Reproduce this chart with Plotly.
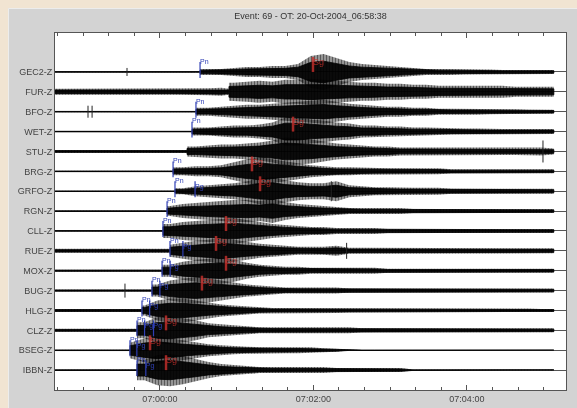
import pandas as pd
import plotly.graph_objects as go

TITLE = "Event: 69 - OT: 20-Oct-2004_06:58:38"
ORIGIN_TIME = "2004-10-20 06:58:38"
WINDOW_S = 399.5

STATIONS = ["GEC2-Z", "FUR-Z", "BFO-Z", "WET-Z", "STU-Z", "BRG-Z", "GRFO-Z", "RGN-Z",
            "CLL-Z", "RUE-Z", "MOX-Z", "BUG-Z", "HLG-Z", "CLZ-Z", "BSEG-Z", "IBBN-Z"]

# envelope sample times (s after origin time)
GRID_S = list(range(0, 400, 10))
# first-arrival onset of each trace (s after origin) and pre-event noise level
ONSET_S = [113.4, 136.0, 110.2, 107.1, 103.2, 92.3, 93.8, 87.6,
           84.4, 89.9, 83.7, 75.8, 68.0, 64.1, 58.6, 64.1]
NOISE = [0.5, 3, 0.5, 0.5, 1.5, 0.5, 0.5, 0.5, 0.5, 2, 1, 1, 1.5, 1.5, 0.5, 0.5]

# envelope half-amplitude (counts) at GRID_S
AMP_GEC2 = [0.5] * 12 + [3, 3, 4, 5, 5, 6, 6, 8, 16, 18, 14, 10, 8, 7, 6, 5, 4, 3, 3, 3,
                         2.5, 2.5, 2.5, 2, 2, 2, 2, 2]
AMP_FUR = [3] * 12 + [3.5, 4] + [9, 10, 11, 10, 12, 12, 13, 12, 11, 10, 9, 9, 8, 8, 7, 7, 6, 6, 6, 6,
                                 6, 6, 5, 5, 5, 5]
AMP_BFO = [0.5] * 12 + [4, 5, 6, 7, 7, 8, 9, 10, 11, 12, 10, 8, 7, 6, 5, 5, 4, 4, 3, 3,
                        3, 3, 2.5, 2.5, 2.5, 2, 2, 2]
AMP_WET = [0.5] * 11 + [4, 4, 5, 6, 6, 7, 9, 14, 14, 12, 11, 9, 8, 6, 6, 5, 5, 4, 4, 3.5,
                        3, 3, 3, 2.5, 2.5, 2.5, 2.5, 2.5, 2.5]
AMP_STU = [1.5] * 11 + [5, 6, 7, 7, 8, 9, 11, 14, 13, 12, 10, 8, 7, 6, 5, 5, 4, 4, 4, 4,
                        4, 3.5, 3.5, 3.5, 3.5, 3.5, 3.5, 4, 3]
AMP_BRG = [0.5] * 10 + [4, 5, 5, 6, 9, 12, 14, 12, 10, 8, 6, 5, 4, 4, 3.5, 3, 3, 3, 3, 3,
                        3, 2, 2, 2, 2, 2, 2, 2, 2, 2]
AMP_GRFO = [0.5] * 10 + [3, 5, 6, 7, 8, 10, 13, 14, 11, 9, 8, 8, 10, 6, 5, 4, 4, 3.5, 3.5, 3.5,
                         3.5, 2.5, 2.5, 2.5, 2.5, 2.5, 2.5, 2.5, 2.5, 2.5]
AMP_RGN = [0.5] * 9 + [5, 7, 8, 9, 10, 11, 11, 10, 12, 9, 7, 6, 5, 4, 3, 3, 3, 3, 3, 2,
                       2, 2, 2, 2, 2, 2, 2, 2, 2, 2, 2]
AMP_CLL = [0.5] * 9 + [7, 9, 10, 11, 12, 13, 11, 9, 7, 6, 5, 4, 4, 3, 3, 3, 3, 2, 2, 2,
                       2, 2, 2, 2, 2, 2, 2, 2, 2, 2, 2]
AMP_RUE = [2] * 9 + [6, 8, 10, 11, 13, 11, 9, 7, 6, 5, 4, 4, 4, 5, 3, 3, 3, 3, 3, 3,
                     2.5, 2.5, 2.5, 2.5, 2.5, 2.5, 2.5, 2.5, 2.5, 2.5, 2.5]
AMP_MOX = [1] * 9 + [6, 9, 11, 12, 13, 11, 8, 6, 5, 4, 4, 3, 3, 3, 3, 3, 3, 2, 2, 2,
                     2, 2, 2, 2, 2, 2, 2, 2, 2, 2, 2]
AMP_BUG = [1] * 8 + [6, 10, 12, 13, 12, 10, 8, 6, 5, 4, 3, 3, 3, 3, 3, 2, 2, 2, 2, 2,
                     2, 2, 2, 2, 2, 2, 2, 2, 2, 2, 2, 2]
AMP_HLG = [1.5] * 7 + [5, 10, 12, 12, 10, 8, 6, 5, 4, 3, 2.5, 2.5, 2.5, 2.5, 2.5, 2.5, 2, 2, 2, 2,
                       2, 2, 2, 2, 2, 2, 2, 2, 2, 2, 2, 1.5, 1.5]
AMP_CLZ = [1.5] * 7 + [8, 13, 14, 12, 10, 7, 6, 5, 4, 3, 3, 3, 3, 3, 3, 3, 3, 2, 2, 2,
                       2, 2, 2, 2, 2, 2, 2, 2, 2, 2, 2, 2, 2]
AMP_BSEG = [0.5] * 6 + [8, 12, 14, 12, 10, 8, 6, 5, 4, 3.5, 3, 3, 3, 3, 3, 2, 1.5, 0.3, 0.3, 0.3,
                        0.3, 0.3, 0.3, 0.3, 0.3, 0.3, 0.3, 0.3, 0.3, 0.3, 0.3, 0.3, 0.3, 0.3]
AMP_IBBN = [0.5] * 7 + [10, 15, 16, 14, 11, 8, 6, 5, 4, 3, 3, 3, 3, 3, 3, 2, 2, 2, 2, 2,
                        2, 0.5, 0.5, 0.5, 0.5, 0.5, 0.5, 0.5, 0.5, 0.5, 0.5, 0.5, 0.5]
AMPS = [AMP_GEC2, AMP_FUR, AMP_BFO, AMP_WET, AMP_STU, AMP_BRG, AMP_GRFO, AMP_RGN,
        AMP_CLL, AMP_RUE, AMP_MOX, AMP_BUG, AMP_HLG, AMP_CLZ, AMP_BSEG, AMP_IBBN]

# isolated spikes
SPIKE_STATION = [0, 2, 2, 11, 4, 9, 6]
SPIKE_S = [56.3, 25.8, 29.0, 54.7, 381.5, 228.0, 216.0]
SPIKE_AMP = [4, 6, 6, 7, 11, 8, 10]

# P picks (blue)
P_STATION = [0, 2, 3, 5, 6, 6, 7, 8, 9, 9, 10, 10, 11, 11, 12, 12, 13, 13, 13, 14, 14, 15, 15]
P_TIME_S = [113.4, 110.2, 107.1, 92.3, 93.8, 109.5, 87.6, 84.4, 89.9, 100.0, 83.7, 90.0,
            75.8, 82.0, 68.0, 74.0, 64.1, 70.0, 77.0, 58.6, 64.0, 64.1, 71.0]
P_LABEL = ["Pn", "Pn", "Pn", "Pn", "Pn", "Pg", "Pn", "Pn", "Pn", "Pg", "Pn", "Pg",
           "Pn", "Pg", "Pn", "Pg", "Pn", "Pg", "Pg", "Pn", "Pg", "Pn", "Pg"]

# S picks (red)
S_STATION = [0, 3, 5, 6, 8, 9, 10, 11, 13, 14, 15]
S_TIME_S = [201.7, 186.1, 154.0, 160.3, 133.7, 125.9, 133.7, 114.9, 86.8, 74.3, 86.8]
S_LABEL = ["Sg"] * len(S_STATION)

PX_PER_TRACE = 19.87
FONT = "Liberation Sans"
BLUE = "#2f3fb5"
RED = "#c8302c"
BEIGE = "#f1e4d2"

t0 = pd.Timestamp(ORIGIN_TIME)


def ts(s):
    return (t0 + pd.Timedelta(seconds=float(s))).strftime("%Y-%m-%d %H:%M:%S.%f")


def envelope(i, scale):
    times, amps = [], []
    onset = ONSET_S[i]
    done = False
    for t, a in zip(GRID_S, AMPS[i]):
        if not done and t >= onset:
            times += [onset, onset]
            amps += [NOISE[i], a]
            done = True
        times.append(t)
        amps.append(a)
    up = [i - a * scale / PX_PER_TRACE for a in amps]
    lo = [i + a * scale / PX_PER_TRACE for a in amps]
    xs = [ts(t) for t in times] + [ts(t) for t in reversed(times)]
    ys = up + lo[::-1]
    return xs, ys


fig = go.Figure()

for i in range(len(STATIONS)):
    assert len(AMPS[i]) == len(GRID_S), STATIONS[i]
    xs, ys = envelope(i, 1.0)
    fig.add_trace(go.Scatter(x=xs, y=ys, fill="toself", mode="lines",
                             line=dict(width=0),
                             fillcolor="rgba(0,0,0,0)",
                             fillpattern=dict(shape="|", fgcolor="black", bgcolor="rgba(0,0,0,0.3)",
                                              size=3, solidity=0.55),
                             hoverinfo="skip"))
for i in range(len(STATIONS)):
    xs, ys = envelope(i, 0.6)
    fig.add_trace(go.Scatter(x=xs, y=ys, fill="toself", mode="lines",
                             line=dict(width=0.8, color="black"),
                             fillcolor="black",
                             fillpattern=dict(shape="|", fgcolor="black", bgcolor="rgba(0,0,0,0.9)",
                                              size=2, solidity=0.6),
                             hoverinfo="skip"))

# spikes
sx, sy = [], []
for st, t, a in zip(SPIKE_STATION, SPIKE_S, SPIKE_AMP):
    sx += [ts(t), ts(t), None]
    sy += [st - a / PX_PER_TRACE, st + a / PX_PER_TRACE, None]
fig.add_trace(go.Scatter(x=sx, y=sy, mode="lines", line=dict(color="#222", width=1),
                         hoverinfo="skip"))

# S picks
rx, ry = [], []
for st, t in zip(S_STATION, S_TIME_S):
    rx += [ts(t), ts(t), None]
    ry += [st - 0.75, st, None]
fig.add_trace(go.Scatter(x=rx, y=ry, mode="lines", line=dict(color=RED, width=2.5),
                         opacity=0.8, hoverinfo="skip"))
fig.add_trace(go.Scatter(x=[ts(t) for t in S_TIME_S], y=[s - 0.45 for s in S_STATION],
                         mode="text", text=S_LABEL, textposition="middle right",
                         textfont=dict(color=RED, size=9, family=FONT), opacity=0.8,
                         hoverinfo="skip"))

# P picks
px_, py_ = [], []
for st, t in zip(P_STATION, P_TIME_S):
    px_ += [ts(t), ts(t), None]
    py_ += [st - 0.5, st + 0.3, None]
fig.add_trace(go.Scatter(x=px_, y=py_, mode="lines", line=dict(color=BLUE, width=1.2),
                         hoverinfo="skip"))
label_y = [s - (0.5 if lab == "Pn" else 0.2) for s, lab in zip(P_STATION, P_LABEL)]
fig.add_trace(go.Scatter(x=[ts(t) for t in P_TIME_S], y=label_y,
                         mode="text", text=P_LABEL, textposition="middle right",
                         textfont=dict(color=BLUE, size=7, family=FONT), hoverinfo="skip"))

# frame: beige strips outside the grey panel
W, H, ML, MR, MT, MB = 577, 408, 55, 11, 33, 18
PW, PH = W - ML - MR, H - MT - MB


def pxx(x):
    return (x - ML) / PW


def pxy(y):
    return (H - MB - y) / PH


shapes = [
    dict(type="rect", xref="paper", yref="paper", x0=pxx(0), x1=pxx(W), y0=pxy(8), y1=pxy(0),
         fillcolor=BEIGE, line=dict(width=0)),
    dict(type="rect", xref="paper", yref="paper", x0=pxx(0), x1=pxx(8), y0=pxy(H), y1=pxy(0),
         fillcolor=BEIGE, line=dict(width=0)),
    dict(type="line", xref="paper", yref="paper", x0=pxx(8.5), x1=pxx(W), y0=pxy(8.5), y1=pxy(8.5),
         line=dict(color="#ececec", width=1)),
    dict(type="line", xref="paper", yref="paper", x0=pxx(8.5), x1=pxx(8.5), y0=pxy(H), y1=pxy(8.5),
         line=dict(color="#ececec", width=1)),
]

fig.update_layout(
    width=W, height=H, margin=dict(l=ML, r=MR, t=MT, b=MB, autoexpand=False),
    paper_bgcolor="#d3d3d3", plot_bgcolor="white", showlegend=False,
    font=dict(family=FONT, color="#444"),
    title=dict(text=TITLE, x=0.5, xref="paper", xanchor="center",
               y=1 - 16 / H, yref="container", yanchor="middle",
               font=dict(size=9, color="#333", family=FONT)),
    shapes=shapes,
    xaxis=dict(type="date", range=[ts(0), ts(WINDOW_S)], tick0=ts(82), dtick=120000,
               tickformat="%H:%M:%S", ticks="inside", ticklen=5, tickcolor="#555",
               showline=True, linecolor="#555", mirror="allticks", showgrid=False,
               zeroline=False, automargin=False,
               tickfont=dict(size=9, color="#444", family=FONT),
               minor=dict(dtick=20000, tick0=ts(82), ticks="inside", ticklen=3,
                          tickcolor="#555", showgrid=False)),
    yaxis=dict(range=[16.0, -1.96], tickvals=list(range(len(STATIONS))), ticktext=STATIONS,
               showgrid=True, gridcolor="#555", gridwidth=1, zeroline=False,
               showline=True, linecolor="#555", mirror=True, ticks="", automargin=False,
               tickfont=dict(size=9, color="#444", family=FONT)),
)

fig.write_html("out.html", config={"displayModeBar": False},
               post_script="document.body.style.margin='0';"
                           "document.body.style.background='" + BEIGE + "';")
